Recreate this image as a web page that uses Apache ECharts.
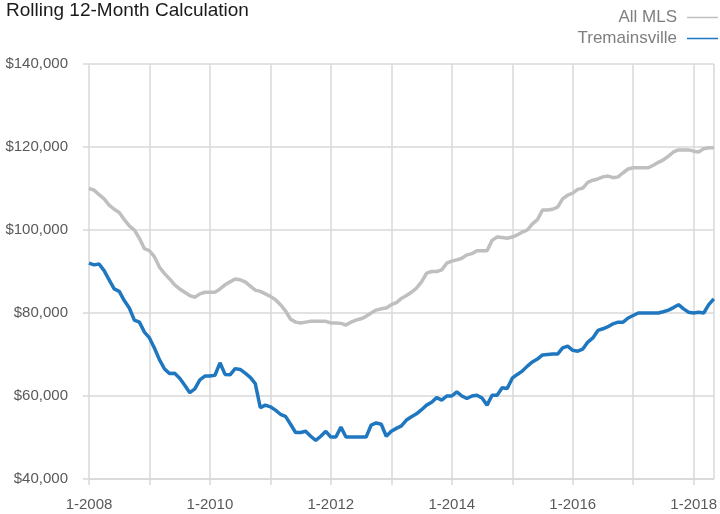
<!DOCTYPE html>
<html>
<head>
<meta charset="utf-8">
<script src="https://cdn.jsdelivr.net/npm/echarts@6/dist/echarts.min.js"></script>
<style>
  html, body { margin: 0; padding: 0; background: #fff; }
  #chart { width: 720px; height: 514px; }
</style>
</head>
<body>
<div id="chart"></div>
<script>
// Monthly categories, 1-2008 through 5-2018
const months = [];
for (let y = 2008; y <= 2018; y++) {
  for (let m = 1; m <= 12; m++) {
    if (y === 2018 && m > 5) break;
    months.push(m + '-' + y);
  }
}

// Rolling 12-month average sale price, all MLS
const allMls = [
  110000, 109600, 108500, 107500, 106000, 105000, 104200, 102500, 101000, 100000,
  98000, 95500, 95000, 93500, 91000, 89500, 88200, 86800, 85800, 85000,
  84200, 83800, 84600, 85000, 85000, 85000, 85800, 86800, 87500, 88200,
  88000, 87500, 86500, 85500, 85200, 84600, 84000, 83200, 82000, 80500,
  78500, 77800, 77600, 77800, 78000, 78000, 78000, 78000, 77600, 77600,
  77500, 77100, 77800, 78300, 78600, 79200, 80000, 80700, 81000, 81200,
  82000, 82500, 83500, 84200, 85000, 86000, 87500, 89600, 90000, 90000,
  90400, 92000, 92500, 92800, 93200, 94000, 94300, 95000, 95000, 95000,
  97500, 98300, 98200, 98000, 98300, 98800, 99500, 100000, 101500, 102500,
  104800, 104800, 105000, 105500, 107500, 108400, 108900, 109800, 110100, 111500,
  112000, 112300, 112800, 113000, 112600, 112800, 113800, 114700, 115000, 115000,
  115000, 115000, 115600, 116300, 116900, 117800, 118800, 119300, 119300, 119300,
  119000, 118800, 119600, 119800, 119800
];

// Rolling 12-month average sale price, Tremainsville
const tremainsville = [
  92000, 91600, 91800, 90200, 88000, 85800, 85200, 83000, 81200, 78300,
  77800, 75400, 74000, 71500, 68700, 66500, 65400, 65500, 64300, 62600,
  60800, 61700, 63900, 64800, 64800, 65000, 68000, 65200, 65100, 66600,
  66400, 65500, 64500, 63000, 57200, 57800, 57400, 56600, 55600, 55100,
  53200, 51200, 51200, 51500, 50300, 49300, 50300, 51500, 50100, 50100,
  52500, 50100, 50100, 50100, 50100, 50100, 53000, 53500, 53200, 50300,
  51500, 52200, 52800, 54200, 55000, 55700, 56700, 57800, 58500, 59600,
  59000, 60000, 60000, 61000, 60000, 59400, 60000, 60200, 59500, 57800,
  60200, 60200, 62000, 61800, 64300, 65200, 66000, 67200, 68200, 68900,
  69900, 70000, 70100, 70100, 71600, 72000, 71000, 70800, 71300, 73000,
  74000, 75800, 76200, 76700, 77400, 77800, 77800, 78800, 79400, 80000,
  80000, 80000, 80000, 80000, 80300, 80700, 81300, 82000, 81000, 80200,
  80000, 80200, 80000, 82000, 83400
];

const seriesNames = ['All MLS', 'Tremainsville'];
const seriesColors = ['#bfbfbf', '#1f77c0'];

const gridColor = '#d9d9d9';
const labelColor = '#595959';
const fontFamily = '"Liberation Sans", Arial, sans-serif';
const lastIndex = months.length - 1;

const chart = echarts.init(document.getElementById('chart'), null, { renderer: 'canvas' });

chart.setOption({
  animation: false,
  backgroundColor: '#ffffff',
  title: {
    text: 'Rolling 12-Month Calculation',
    left: 6,
    top: 1,
    padding: 0,
    textStyle: { fontFamily: fontFamily, fontSize: 19, fontWeight: 'normal', color: '#1a1a1a' }
  },
  legend: {
    orient: 'vertical',
    right: 2,
    top: 9,
    padding: 0,
    align: 'right',
    icon: 'rect',
    itemWidth: 31,
    itemHeight: 1.5,
    itemGap: 4,
    data: seriesNames,
    textStyle: { fontFamily: fontFamily, fontSize: 17, color: '#7f7f7f', padding: [0, 5, 0, 0] }
  },
  grid: { left: 89, right: 3, top: 64, bottom: 35, containLabel: false },
  xAxis: {
    type: 'category',
    data: months,
    boundaryGap: false,
    axisLine: { show: true, lineStyle: { color: gridColor, width: 1.5 } },
    axisTick: { show: true, interval: (i) => i % 12 === 0, length: 6, lineStyle: { color: gridColor, width: 1.5 } },
    // yearly gridlines plus a closing line on the right edge
    splitLine: { show: true, interval: (i) => i % 12 === 0 || i === lastIndex, lineStyle: { color: gridColor, width: 1.5 } },
    axisLabel: {
      interval: (i) => i % 24 === 0,
      margin: 18,
      color: labelColor,
      fontFamily: fontFamily,
      fontSize: 15
    }
  },
  yAxis: {
    type: 'value',
    min: 40000,
    max: 140000,
    interval: 20000,
    axisLine: { show: false },
    axisTick: { show: true, length: 6, lineStyle: { color: gridColor, width: 1.5 } },
    splitLine: { show: true, lineStyle: { color: gridColor, width: 1.5 } },
    axisLabel: {
      margin: 21,
      color: labelColor,
      fontFamily: fontFamily,
      fontSize: 15,
      formatter: (v) => '$' + v.toLocaleString('en-US')
    }
  },
  series: [
    {
      name: seriesNames[0],
      type: 'line',
      data: allMls,
      showSymbol: false,
      itemStyle: { color: seriesColors[0] },
      lineStyle: { color: seriesColors[0], width: 3.5 }
    },
    {
      name: seriesNames[1],
      type: 'line',
      data: tremainsville,
      showSymbol: false,
      itemStyle: { color: seriesColors[1] },
      lineStyle: { color: seriesColors[1], width: 3.5 }
    }
  ]
});
</script>
</body>
</html>
